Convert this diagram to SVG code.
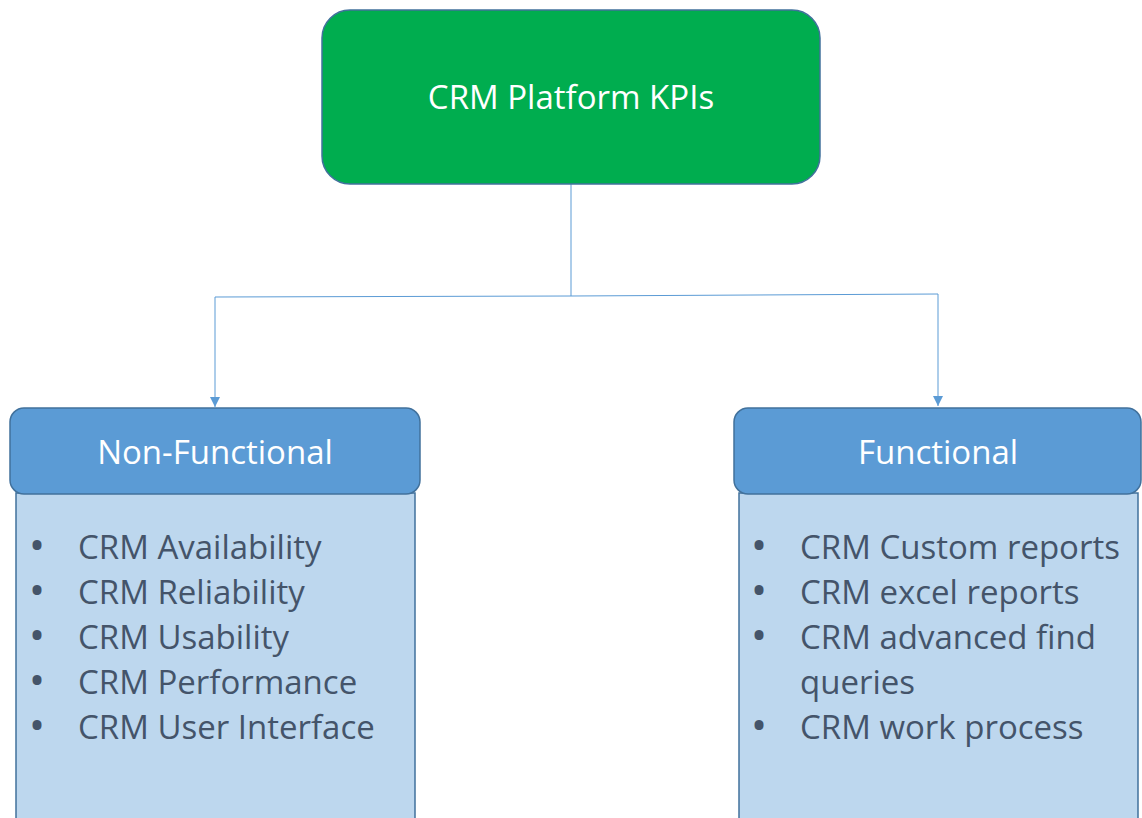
<svg xmlns="http://www.w3.org/2000/svg" width="1142" height="818" viewBox="0 0 1142 818">
  <style>
    .root { fill: #00AD4F; stroke: #41719C; stroke-width: 1.5; }
    .head { fill: #5B9BD5; stroke: #41719C; stroke-width: 1.5; }
    .body { fill: #BDD7EE; stroke: #41719C; stroke-width: 1.5; }
    .title { font-family: "Open Sans", "Liberation Sans", sans-serif; font-size: 33px; fill: #FFFFFF; text-anchor: middle; }
    .item { font-family: "Open Sans", "Liberation Sans", sans-serif; font-size: 33px; fill: #44546A; }
    .bullet { font-family: "Open Sans", "Liberation Sans", sans-serif; font-size: 32px; font-weight: bold; fill: #44546A; text-anchor: middle; }
    .link { fill: none; stroke: #5B9BD5; stroke-width: 1; }
  </style>
  <defs>
    <marker id="arrow" viewBox="0 0 10 10" refX="10" refY="5" markerWidth="10" markerHeight="10" markerUnits="userSpaceOnUse" orient="auto">
      <path d="M0,0 L10,5 L0,10 z" fill="#5B9BD5"/>
    </marker>
  </defs>

  <g id="connectors">
    <path class="link" d="M571,184 L571,296 L215,297 L215,407" marker-end="url(#arrow)"/>
    <path class="link" d="M571,296 L938,294 L938,406" marker-end="url(#arrow)"/>
  </g>

  <g id="crm-platform-kpis">
    <rect class="root" x="322" y="10" width="498" height="174" rx="28"/>
    <text class="title" x="571" y="109">CRM Platform KPIs</text>
  </g>

  <g id="non-functional">
    <rect class="body" x="16" y="493" width="399" height="340"/>
    <rect class="head" x="10" y="408" width="410" height="86" rx="14"/>
    <text class="title" x="215" y="464">Non-Functional</text>
    <g class="bullet">
      <text x="37" y="557">•</text>
      <text x="37" y="602">•</text>
      <text x="37" y="647">•</text>
      <text x="37" y="692">•</text>
      <text x="37" y="737">•</text>
    </g>
    <g class="item">
      <text x="78" y="559">CRM Availability</text>
      <text x="78" y="604">CRM Reliability</text>
      <text x="78" y="649">CRM Usability</text>
      <text x="78" y="694">CRM Performance</text>
      <text x="78" y="739">CRM User Interface</text>
    </g>
  </g>

  <g id="functional">
    <rect class="body" x="739" y="493" width="399" height="340"/>
    <rect class="head" x="734" y="408" width="407" height="86" rx="14"/>
    <text class="title" x="938" y="464">Functional</text>
    <g class="bullet">
      <text x="759" y="557">•</text>
      <text x="759" y="602">•</text>
      <text x="759" y="647">•</text>
      <text x="759" y="737">•</text>
    </g>
    <g class="item">
      <text x="800" y="559">CRM Custom reports</text>
      <text x="800" y="604">CRM excel reports</text>
      <text x="800" y="649">CRM advanced find</text>
      <text x="800" y="694">queries</text>
      <text x="800" y="739">CRM work process</text>
    </g>
  </g>
</svg>
